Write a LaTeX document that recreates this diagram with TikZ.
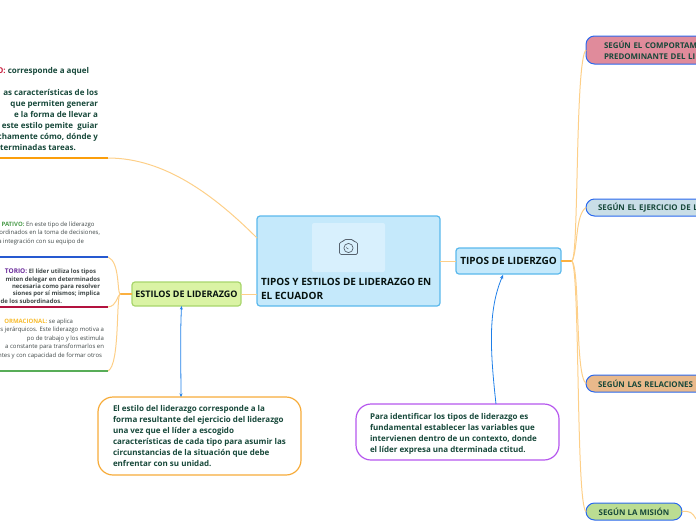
\documentclass[tikz,border=0pt]{standalone}
\usepackage{fontspec}
\usetikzlibrary{arrows.meta}
\setmainfont{Open Sans}
\definecolor{darktxt}{HTML}{17483A}
\definecolor{graytxt}{HTML}{404848}
\definecolor{branch}{HTML}{FDCF88}
\definecolor{branchstrong}{HTML}{FBB040}
\definecolor{arrowblue}{HTML}{1F7FE8}
\definecolor{edgeblue}{HTML}{2A68EE}
\definecolor{centralfill}{HTML}{C5E9FB}
\definecolor{centraledge}{HTML}{5AB8EC}
\definecolor{photofill}{HTML}{D8F0FD}
\definecolor{iconcol}{HTML}{56626E}
\definecolor{estilosfill}{HTML}{DAF3A4}
\definecolor{estilosedge}{HTML}{A8D56C}
\definecolor{pinkfill}{HTML}{E08B9B}
\definecolor{bluefill}{HTML}{C9DEE7}
\definecolor{tanfill}{HTML}{E9B98B}
\definecolor{greenfill}{HTML}{BBDD92}
\definecolor{noteorange}{HTML}{F7AC3A}
\definecolor{notepurple}{HTML}{B657EE}
\definecolor{lineorange}{HTML}{FB9E0B}
\definecolor{lineblue}{HTML}{2659D0}
\definecolor{linered}{HTML}{B3123F}
\definecolor{linegreen}{HTML}{58AD58}
\definecolor{pfxred}{HTML}{C8203F}
\definecolor{pfxgreen}{HTML}{4C9C4C}
\definecolor{pfxpurple}{HTML}{6A2A9A}
\definecolor{pfxyellow}{HTML}{F7BC30}
\newcommand{\rt}[2]{#2\hspace*{#1pt}}
\tikzset{
  every node/.style={inner sep=0pt,outer sep=0pt},
  branchline/.style={draw=branch,line width=1pt},
  stem/.style={draw=branchstrong,line width=1.4pt},
  linkarrow/.style={draw=arrowblue,line width=0.8pt,-{Stealth[length=4pt,width=3.5pt]}},
  bothways/.style={draw=arrowblue,line width=0.8pt,{Stealth[length=3.5pt,width=3pt]}-{Stealth[length=3.5pt,width=3pt]}},
  topicbox/.style={line width=1.2pt,rounded corners=3pt,text=black!75!darktxt},
  sidebox/.style={draw=edgeblue,line width=1pt,rounded corners=8.5pt,anchor=north west,font=\bfseries\fontsize{7.9}{11}\selectfont,text=darktxt},
  notebox/.style={draw=#1,fill=white,line width=1.2pt,rounded corners=15pt,anchor=north west,minimum width=203pt},
  notetext/.style={anchor=north west,align=left,font=\bfseries\fontsize{8}{11}\selectfont,text=darktxt},
  bigleft/.style={anchor=north east,align=right,font=\bfseries\fontsize{8}{11}\selectfont,text=darktxt},
  smallleft/.style={anchor=north east,align=right,font=\fontsize{6}{8.5}\selectfont,text=graytxt},
  smallbold/.style={anchor=north east,align=right,font=\bfseries\fontsize{6}{7.4}\selectfont,text=graytxt},
}
\begin{document}
\begin{tikzpicture}[x=1pt,y=-1pt]
\useasboundingbox (0,0) rectangle (696,520);
\clip (0,0) rectangle (696,520);

% central topic
\node[topicbox,draw=centraledge,fill=centralfill,anchor=north west,minimum width=183pt,minimum height=90pt] (central) at (257,216) {};
\node[fill=photofill,rounded corners=2pt,anchor=north west,minimum width=73pt,minimum height=49pt] (photo) at (312,223) {};
\draw[iconcol,line width=0.7pt,rounded corners=1.5pt] (339.5,242) -- (343,242) -- (344,239.5) -- (353,239.5) -- (354,242) -- (357.5,242) -- (357.5,254.5) -- (339.5,254.5) -- cycle;
\draw[iconcol,line width=0.7pt] (348.5,248) circle (4.6pt);
\draw[iconcol,line width=0.5pt] (346.5,247) arc (180:270:2pt);
\node[anchor=north west,align=left,font=\bfseries\fontsize{10}{14}\selectfont,text=black!75!darktxt] (title) at (261,278.5) {TIPOS Y ESTILOS DE LIDERAZGO EN\\EL ECUADOR};

% main topics
\node[topicbox,draw=centraledge,fill=centralfill,minimum width=105pt,minimum height=26pt,font=\bfseries\fontsize{10}{11}\selectfont] (tipos) at (508.5,261) {TIPOS DE LIDERZGO};
\node[topicbox,draw=estilosedge,fill=estilosfill,minimum width=109pt,minimum height=24pt,font=\bfseries\fontsize{9}{11}\selectfont] (estilos) at (186.5,294) {ESTILOS DE LIDERAZGO};

% right side nodes
\node[sidebox,fill=pinkfill,minimum height=28pt,text width=150pt,align=left] (comp) at (586,36) {\hspace*{18pt}SEGÚN EL COMPORTAM\\\hspace*{18pt}PREDOMINANTE DEL LI};
\node[sidebox,fill=bluefill,minimum height=17pt,text width=150pt,align=left] (ejer) at (586,199) {\hspace*{12pt}SEGÚN EL EJERCICIO DE L};
\node[sidebox,fill=tanfill,minimum height=17pt,text width=150pt,align=left] (rela) at (586,375) {\hspace*{12pt}SEGÚN LAS RELACIONES};
\node[sidebox,fill=greenfill,minimum width=96pt,minimum height=17pt] (mision) at (586,503) {SEGÚN LA MISIÓN};

% branch junction coordinates
\coordinate (jr) at (572,261);
\coordinate (jl) at (120,294);
\coordinate (lineA) at (108,158);
\coordinate (lineB) at (108,257);
\coordinate (lineC) at (108,307);
\coordinate (lineD) at (108,371);
\coordinate (lA) at (0,158);
\coordinate (lB) at (0,257);
\coordinate (lC) at (0,307);
\coordinate (lD) at (0,371);
\coordinate (misionend) at (696,519);

% connectors
\draw[branchline] (central.east |- tipos.west) -- (tipos.west);
\draw[branchline] (estilos.east) -- (central.west |- estilos.east);
\draw[stem] (tipos.east) -- (jr);
\draw[stem] (estilos.west) -- (jl);
\draw[branchline] (jr) .. controls (579,255) and (575,60) .. (comp.west);
\draw[branchline] (jr) .. controls (578,250) and (575,215) .. (ejer.west);
\draw[branchline] (jr) .. controls (580,270) and (575,375) .. (rela.west);
\draw[branchline] (jr) .. controls (580,275) and (576,505) .. (mision.west);
\draw[branchline] (mision.east) .. controls (690,511) and (692,512) .. (misionend);
\draw[branchline] (lineA) .. controls (165,158) and (215,196) .. (central.west |- 0,238);
\draw[branchline] (jl) .. controls (117,292) and (120,262) .. (lineB);
\draw[branchline] (jl) .. controls (117,296) and (117,306) .. (lineC);
\draw[branchline] (jl) .. controls (116,297) and (120,365) .. (lineD);
\draw[line width=1.4pt,lineorange] (lA) -- (lineA);
\draw[line width=1.2pt,lineblue] (lB) -- (lineB);
\draw[line width=1.2pt,linered] (lC) -- (lineC);
\draw[line width=1.2pt,linegreen] (lD) -- (lineD);

% notes
\node[notebox=noteorange,minimum height=78pt] (note1) at (98,397) {};
\node[notebox=notepurple,minimum height=56pt] (note2) at (356,404) {};
\node[notetext] (note1txt) at (113,405) {El estilo del liderazgo corresponde a la\\forma resultante del ejercicio del liderazgo\\una vez que el líder a escogido\\características de cada tipo para asumir las\\circunstancias de la situación que debe\\enfrentar con su unidad.};
\node[notetext] (note2txt) at (370,413) {Para identificar los tipos de liderazgo es\\fundamental establecer las variables que\\intervienen dentro de un contexto, donde\\el líder expresa una dterminada ctitud.};
\draw[bothways] (estilos.south -| 181.5,0) .. controls (180,340) and (181,370) .. (note1.north -| 181,0);
\draw[linkarrow] (note2.north -| 496,0) .. controls (490,350) and (488,310) .. (503,275);

% left texts
\node[bigleft] (txtA) at (98,67) {\rt{9}{\textcolor{pfxred}{O:} corresponde a aquel}\\\mbox{}\\\rt{3}{as características de los}\\\rt{10}{que permiten generar}\\\rt{14}{e la forma de llevar a}\\\rt{2.5}{este estilo pemite\ \ guiar}\\\rt{0.5}{tchamente cómo, dónde y}\\\rt{22}{terminadas tareas.}};
\node[smallleft] (txtB) at (100,221.5) {\rt{5.5}{\textcolor{pfxgreen}{\bfseries PATIVO:} En este tipo de líderazgo}\\\rt{0}{ordinados en la toma de decisiones,}\\\rt{16}{a integración con su equipo de}};
\node[smallbold] (txtC) at (100,269) {\rt{4}{\textcolor{pfxpurple}{\fontsize{6.5}{7.4}\selectfont TORIO:} El líder utiliza los tipos}\\\rt{8}{miten delegar en determinados}\\\rt{3}{necesaria como para resolver}\\\rt{11}{siones por sí mismos; implica}\\\rt{38}{de los subordinados.}};
\node[smallleft] (txtD) at (104,318.5) {\rt{31}{\textcolor{pfxyellow}{\bfseries ORMACIONAL:} se aplica}\\\rt{4}{s jerárquicos. Este liderazgo motiva a}\\\rt{27}{po de trabajo y los estimula}\\\rt{6}{a constante para transformarlos en}\\\rt{2}{ntes y con capacidad de formar otros}};
\end{tikzpicture}
\end{document}
